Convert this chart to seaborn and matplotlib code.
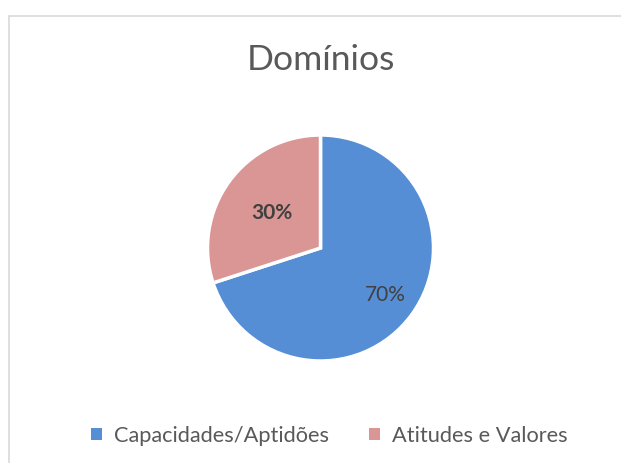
import matplotlib
matplotlib.use("Agg")
import matplotlib.pyplot as plt
import seaborn as sns
import numpy as np
from matplotlib.patches import Rectangle, Patch

categories = ["Capacidades/Aptidões", "Atitudes e Valores"]
values = [70, 30]
pct_labels = ["70%", "30%"]
title = "Domínios"

sns.set_theme(style="white")
plt.rcParams['font.family'] = ['Lato', 'DejaVu Sans']

colors = ["#558ED5", "#D99694"]

W, H = 621, 463
fig = plt.figure(figsize=(W / 100, H / 100), dpi=100)
fig.patch.set_facecolor("white")

# border
fig.add_artist(Rectangle((8.5 / W, -0.1), 2, (H - 15.5) / H + 0.1,
                         transform=fig.transFigure, fill=False,
                         edgecolor="#D9D9D9", linewidth=1.2))

cx, cy, r = 320.5, 248, 113
ax = fig.add_axes([(cx - r) / W, (H - cy - r) / H, 2 * r / W, 2 * r / H])
wedges, _ = ax.pie(values, colors=colors, startangle=90, counterclock=False,
                   radius=1, wedgeprops=dict(edgecolor="white", linewidth=2.5))
ax.set_xlim(-1.0, 1.0)
ax.set_ylim(-1.0, 1.0)
ax.set_aspect("equal")
ax.axis("off")

dists = [0.71, 0.53]
weights = ["normal", "bold"]
for w, lab, d, fw in zip(wedges, pct_labels, dists, weights):
    mid = np.deg2rad((w.theta1 + w.theta2) / 2)
    ax.text(d * np.cos(mid), d * np.sin(mid), lab, ha="center", va="center",
            fontsize=15, color="#404040", fontweight=fw)

fig.text(cx / W, 1 - 60 / H, title, ha="center", va="center",
         fontsize=25.5, color="#595959")

handles = [Patch(facecolor=c, edgecolor="none") for c in colors]
fig.legend(handles, categories, loc="center", bbox_to_anchor=(329 / W, 1 - 436 / H),
           ncol=2, frameon=False, fontsize=15.7, handlelength=0.5, handleheight=0.5,
           handletextpad=0.55, columnspacing=1.85, labelcolor="#595959")

fig.savefig("out.png", dpi=100, facecolor="white")
